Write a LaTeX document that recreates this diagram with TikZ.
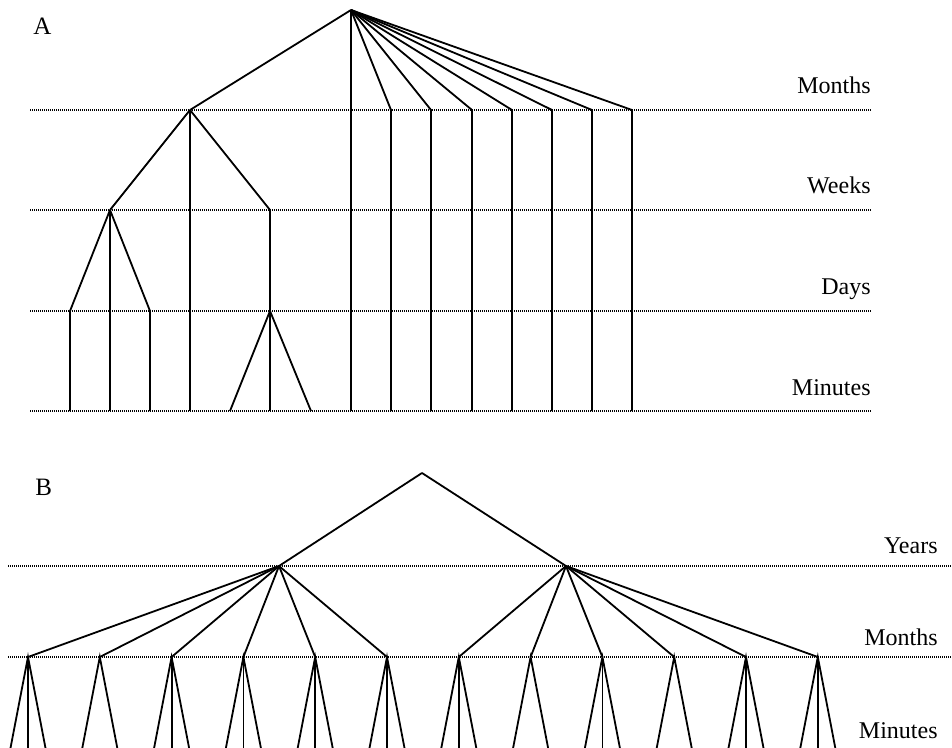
\documentclass[tikz,border=0pt]{standalone}
\usepackage{fontspec}
\setmainfont{Liberation Serif}
\begin{document}
\begin{tikzpicture}[x=0.5pt,y=-0.5pt,
  branch/.style={line width=0.9pt},
  level/.style={line width=0.6pt, dash pattern=on 0.5pt off 0.5pt},
  lab/.style={font=\fontsize{12}{14}\selectfont, inner sep=0pt, anchor=base east},
  panel/.style={font=\fontsize{12.5}{14}\selectfont, inner sep=0pt, anchor=base west}]
\useasboundingbox (0,0) rectangle (952,748);

% ---------------- Panel A ----------------
\node[panel] (pa) at (33,35) {A};
\foreach \y/\t [count=\k] in {110/Months,210/Weeks,311/Days,411/Minutes}{
  \coordinate (al\k w) at (30,\y);
  \coordinate (al\k e) at (872,\y);
  \draw[level] (al\k w) -- (al\k e);
  \node[lab] (alab\k) at (871,\y-16) {\t};
}
\coordinate (ar) at (351,10);
\coordinate (arend) at (351,411);
\draw[branch] (ar) -- (arend);
\coordinate (am0) at (190,110);
\draw[branch] (ar) -- (am0);
\foreach \x [count=\i] in {391,431,472,512,552,592,632}{
  \coordinate (am\i) at (\x,110);
  \coordinate (am\i end) at (\x,411);
  \draw[branch] (ar) -- (am\i) -- (am\i end);
}
\coordinate (aw0) at (110,210);
\coordinate (aw2) at (270,210);
\coordinate (am0end) at (190,411);
\draw[branch] (am0) -- (aw0);
\draw[branch] (am0) -- (am0end);
\draw[branch] (am0) -- (aw2);
\foreach \x [count=\i] in {70,110,150}{
  \coordinate (ad\i) at (\x,311);
  \coordinate (ad\i end) at (\x,411);
  \draw[branch] (aw0) -- (ad\i) -- (ad\i end);
}
\coordinate (ad4) at (270,311);
\draw[branch] (aw2) -- (ad4);
\foreach \x [count=\i] in {230,270,311}{
  \coordinate (amin\i) at (\x,411);
  \draw[branch] (ad4) -- (amin\i);
}

% ---------------- Panel B ----------------
\node[panel] (pb) at (35,495) {B};
\foreach \y/\t/\b [count=\k] in {566/Years/553,657/Months/645}{
  \coordinate (bl\k w) at (8,\y);
  \coordinate (bl\k e) at (952,\y);
  \draw[level] (bl\k w) -- (bl\k e);
  \node[lab] (blab\k) at (938,\b) {\t};
}
\node[lab] (blab3) at (938,738) {Minutes};
\coordinate (br) at (422,473);
\coordinate (by0) at (279,566);
\coordinate (by1) at (566,566);
\draw[branch] (br) -- (by0);
\draw[branch] (br) -- (by1);
\foreach \n/\mid in {0/1,1/0,2/1,3/1,4/1,5/1,6/1,7/0,8/1,9/0,10/1,11/1}{
  \pgfmathsetmacro{\xx}{28+71.8*\n}
  \pgfmathtruncatemacro{\pp}{\n<6 ? 0 : 1}
  \coordinate (bm\n) at (\xx,657);
  \coordinate (bm\n a) at (\xx-17.5,748);
  \coordinate (bm\n b) at (\xx,748);
  \coordinate (bm\n c) at (\xx+17.5,748);
  \draw[branch] (by\pp) -- (bm\n);
  \draw[branch] (bm\n a) -- (bm\n) -- (bm\n c);
  \ifnum\mid=1 \draw[branch] (bm\n) -- (bm\n b); \fi
}
\end{tikzpicture}
\end{document}
